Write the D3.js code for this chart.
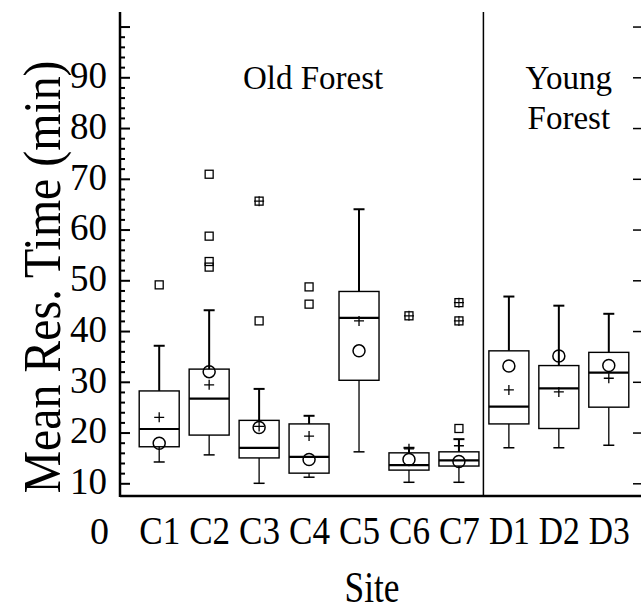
<!DOCTYPE html>
<html>
<head>
<meta charset="utf-8">
<script src="https://cdn.jsdelivr.net/npm/d3@7"></script>
<style>
  html, body { margin: 0; padding: 0; background: #fff; }
  svg { display: block; }
  text { font-family: "Liberation Serif", "Times New Roman", serif; fill: #000; }
</style>
</head>
<body>
<div id="chart"></div>
<script>
// values (minutes)
const sites = ["C1", "C2", "C3", "C4", "C5", "C6", "C7", "D1", "D2", "D3"];
const whiskerLow  = [14.2, 15.6, 10.0, 11.2, 16.2, 10.2, 10.2, 17.0, 17.0, 17.5];
const q1          = [17.2, 19.5, 15.0, 12.0, 30.3, 12.6, 13.4, 21.7, 20.8, 25.0];
const median      = [20.7, 26.7, 17.0, 15.2, 42.6, 13.6, 14.5, 25.1, 28.7, 31.8];
const q3          = [28.2, 32.5, 22.4, 21.7, 47.8, 16.0, 16.2, 36.1, 33.2, 35.8];
const whiskerHigh = [37.1, 44.1, 28.6, 23.3, 64.0, 17.0, 18.7, 46.8, 45.0, 43.4];
const means       = [23.0, 29.4, 21.2, 19.3, 42.0, 16.8, 17.4, 28.4, 28.0, 30.7];
const circles     = [17.9, 32.0, 21.0, 14.7, 36.1, 14.7, 14.3, 33.1, 35.1, 33.2];
const outliers    = [[49.1], [70.9, 58.7, 53.7, 52.6], [42.0], [48.7, 45.3], [], [], [20.8], [], [], []];
const farOutliers = [[], [], [65.6], [], [], [43.0], [45.6, 42.0], [], [], []];
const yMajor = [10, 20, 30, 40, 50, 60, 70, 80, 90, 100];
const groupLabels = [
  { lines: ["Old Forest"], from: 0, to: 6 },
  { lines: ["Young", "Forest"], from: 7, to: 9 }
];

const width = 641, height = 616;
const plotLeft = 120, plotRight = 641, plotTop = 12, plotBottom = 496;

const svg = d3.select("#chart").append("svg")
  .attr("width", width)
  .attr("height", height);

const x = d3.scalePoint().domain(sites).range([159.2, 608.8]);
const y = d3.scaleLinear().domain([0, 100]).range([534.05, 26.55]);

// minor ticks every 2
const yMinor = d3.range(12, 101, 2).filter(v => v % 10 !== 0);

svg.append("g")
  .attr("transform", `translate(${plotLeft},0)`)
  .call(d3.axisLeft(y).tickValues(yMinor).tickSize(-5).tickFormat(""))
  .call(g => g.select(".domain").remove())
  .call(g => g.selectAll("line").attr("stroke", "#000").attr("stroke-width", 2));

svg.append("g")
  .attr("transform", `translate(${plotLeft},0)`)
  .call(d3.axisLeft(y).tickValues(yMajor).tickSize(-10).tickPadding(13)
    .tickFormat(d => d === 100 ? "" : d))
  .call(g => g.select(".domain").remove())
  .call(g => g.selectAll("line").attr("stroke", "#000").attr("stroke-width", 2))
  .call(g => g.selectAll("text").attr("font-size", 38).attr("dy", "0.27em")
    .attr("textLength", 37).attr("lengthAdjust", "spacingAndGlyphs")
    .style("font-family", "Liberation Serif, Times New Roman, serif"));

// the zero label sits below the clipped axis
svg.append("text")
  .attr("x", plotLeft - 11)
  .attr("y", y(0))
  .attr("dy", "0.27em")
  .attr("text-anchor", "end")
  .attr("font-size", 38)
  .text("0");

// right side major ticks (no axis line)
svg.append("g")
  .attr("transform", `translate(${plotRight + 1},0)`)
  .call(d3.axisRight(y).tickValues(yMajor).tickSize(-9).tickFormat(""))
  .call(g => g.select(".domain").remove())
  .call(g => g.selectAll("line").attr("stroke", "#000").attr("stroke-width", 1.5));

// x axis labels
svg.append("g")
  .attr("transform", `translate(0,${plotBottom})`)
  .call(d3.axisBottom(x).tickSize(0).tickPadding(20))
  .call(g => g.select(".domain").remove())
  .call(g => g.selectAll("text").attr("font-size", 40).attr("textLength", 41)
    .attr("lengthAdjust", "spacingAndGlyphs")
    .style("font-family", "Liberation Serif, Times New Roman, serif"));

// frame lines
svg.append("line")
  .attr("x1", plotLeft).attr("x2", plotLeft).attr("y1", plotTop).attr("y2", plotBottom + 1)
  .attr("stroke", "#000").attr("stroke-width", 2.5);
svg.append("line")
  .attr("x1", plotLeft).attr("x2", plotRight).attr("y1", plotBottom).attr("y2", plotBottom)
  .attr("stroke", "#000").attr("stroke-width", 2.5);

// divider between forest types
const divX = (x("C7") + x("D1")) / 2 - 0.5;
svg.append("line")
  .attr("x1", divX).attr("x2", divX).attr("y1", plotTop).attr("y2", plotBottom)
  .attr("stroke", "#000").attr("stroke-width", 1.5);

// group labels
groupLabels.forEach(gl => {
  const cx = gl.lines.length === 1
    ? (x(sites[gl.from]) + x(sites[gl.to])) / 2 + 4
    : (x(sites[gl.from]) + x(sites[gl.to])) / 2 + 10;
  gl.lines.forEach((t, i) => {
    svg.append("text")
      .attr("x", cx)
      .attr("y", 89 + i * 40)
      .attr("text-anchor", "middle")
      .attr("font-size", 33)
      .text(t);
  });
});

// boxes
const halfW = 20, capW = 5.5;
const boxes = svg.append("g")
  .selectAll("g")
  .data(sites.map((s, i) => ({ s, i })))
  .join("g")
  .attr("transform", d => `translate(${x(d.s)},0)`);

boxes.append("line") // upper whisker
  .attr("y1", d => y(q3[d.i])).attr("y2", d => y(whiskerHigh[d.i]))
  .attr("stroke", "#000").attr("stroke-width", 2);
boxes.append("line")
  .attr("x1", -capW).attr("x2", capW)
  .attr("y1", d => y(whiskerHigh[d.i])).attr("y2", d => y(whiskerHigh[d.i]))
  .attr("stroke", "#000").attr("stroke-width", 2);
boxes.append("line") // lower whisker
  .attr("y1", d => y(q1[d.i])).attr("y2", d => y(whiskerLow[d.i]))
  .attr("stroke", "#000").attr("stroke-width", 1.3);
boxes.append("line")
  .attr("x1", -capW).attr("x2", capW)
  .attr("y1", d => y(whiskerLow[d.i])).attr("y2", d => y(whiskerLow[d.i]))
  .attr("stroke", "#000").attr("stroke-width", 1.5);

boxes.append("rect")
  .attr("x", -halfW).attr("width", halfW * 2)
  .attr("y", d => y(q3[d.i]))
  .attr("height", d => y(q1[d.i]) - y(q3[d.i]))
  .attr("fill", "none").attr("stroke", "#000").attr("stroke-width", 1.4);
boxes.append("line")
  .attr("x1", -halfW).attr("x2", halfW)
  .attr("y1", d => y(median[d.i])).attr("y2", d => y(median[d.i]))
  .attr("stroke", "#000").attr("stroke-width", 2.2);

boxes.append("circle")
  .attr("cy", d => y(circles[d.i]))
  .attr("r", 6)
  .attr("fill", "none").attr("stroke", "#000").attr("stroke-width", 1.5);

boxes.append("path") // mean marker
  .attr("d", d => `M-5,${y(means[d.i])}H5M0,${y(means[d.i]) - 5}V${y(means[d.i]) + 5}`)
  .attr("stroke", "#000").attr("stroke-width", 1.3).attr("fill", "none");

boxes.each(function (d) {
  const g = d3.select(this);
  outliers[d.i].forEach(v => {
    g.append("rect")
      .attr("x", -4).attr("y", y(v) - 4).attr("width", 8).attr("height", 8)
      .attr("fill", "none").attr("stroke", "#000").attr("stroke-width", 1.3);
  });
  farOutliers[d.i].forEach(v => {
    g.append("rect")
      .attr("x", -4).attr("y", y(v) - 4).attr("width", 8).attr("height", 8)
      .attr("fill", "none").attr("stroke", "#000").attr("stroke-width", 1.3);
    g.append("path")
      .attr("d", `M-5,${y(v)}H5M0,${y(v) - 5}V${y(v) + 5}`)
      .attr("stroke", "#000").attr("stroke-width", 1.1);
  });
});

// axis titles
svg.append("text")
  .attr("transform", `translate(60,277) rotate(-90)`)
  .attr("text-anchor", "middle")
  .attr("font-size", 52)
  .attr("textLength", 433)
  .attr("lengthAdjust", "spacingAndGlyphs")
  .text("Mean Res. Time (min)");

svg.append("text")
  .attr("x", 372)
  .attr("y", 602)
  .attr("text-anchor", "middle")
  .attr("font-size", 45)
  .attr("textLength", 55)
  .attr("lengthAdjust", "spacingAndGlyphs")
  .text("Site");
</script>
</body>
</html>
